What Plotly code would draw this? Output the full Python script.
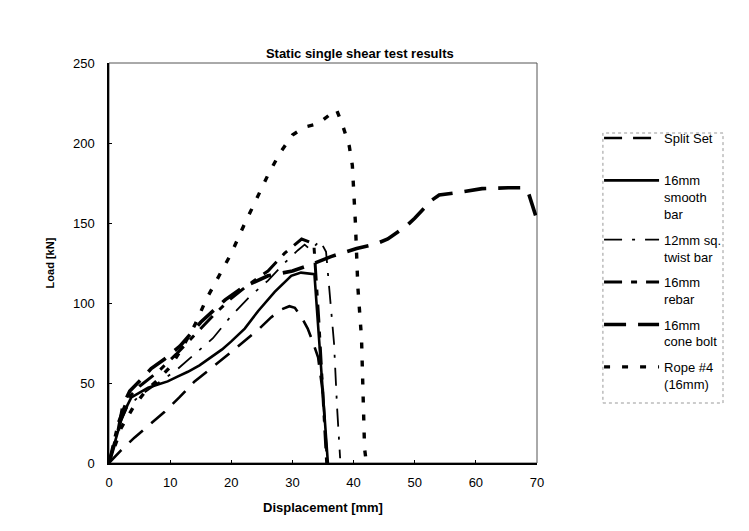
import plotly.graph_objects as go

# ---- data ----
split_set_x = [0, 2, 4.2, 6.4, 9.1, 11.5, 14, 16, 18.3, 20.5, 22.7, 24.6, 26.5, 28.2, 29.5, 30.4, 31.5, 32.5, 33.4, 34.2, 35, 35.7]
split_set_y = [0, 8, 16, 23, 32, 41, 51, 57, 64, 71, 78, 84, 91, 96, 98, 97, 91, 84, 75, 66, 43, 0]

smooth_bar_x = [0, 1, 2, 3, 3.65, 5, 6.4, 8, 9.6, 11.2, 12.9, 14.8, 16.7, 18.5, 20, 22.2, 24.4, 27.1, 29.8, 31.4, 33.6, 35.8]
smooth_bar_y = [0, 14, 27, 36, 41, 44, 47, 49, 51, 54, 57, 61, 66, 71, 76, 84, 95, 107, 117, 119, 118, 0]

twist_bar_x = [0, 1.5, 3, 5, 8, 11, 14, 17, 20, 23, 26, 28.7, 30.9, 32, 33, 34.5, 35.5, 36.3, 36.8, 37.3, 37.8]
twist_bar_y = [0, 22, 35, 42, 50, 58, 68, 78, 92, 104, 114, 125, 133, 136.5, 133, 139, 132, 97, 75, 35, 3]

rebar_x = [0, 1.5, 3, 5, 8, 11, 14, 17, 20, 23, 26, 28.7, 31.5, 33.5, 34.3, 35, 35.6]
rebar_y = [0, 25, 40, 48, 57, 68, 80, 92, 103, 112, 120, 131, 140, 137, 90, 45, 0]

cone_bolt_x = [0, 1.5, 2.3, 3.4, 5.2, 6.9, 9.1, 11.6, 15, 19, 22, 26, 30, 33, 36.3, 40.5, 43.7, 45.6, 48.6, 50, 52.7, 54, 57, 61, 65.3, 67.5, 68.5, 70]
cone_bolt_y = [0, 20, 36, 45, 52, 59, 65, 73, 88, 102, 110, 117, 120, 124, 129, 134, 137, 140, 148, 153, 164, 167.5, 169, 171.5, 172, 172, 170, 152]

rope_x = [0, 2, 4, 6, 8, 10, 12, 14, 16, 18, 20, 22, 24, 26, 28, 30, 32, 34.2, 37.2, 38.3, 39.3, 39.8, 40.3, 40.7, 41.3, 41.8, 42]
rope_y = [0, 22, 35, 45, 52, 60, 72, 86, 103, 117, 131, 148, 164, 180, 194, 205, 210, 212, 221, 210, 198, 186, 150, 110, 78, 9, 3]

series_names = ["Split Set<br>&nbsp;", "16mm<br>smooth<br>bar", "12mm sq.<br>twist bar",
                "16mm<br>rebar", "16mm<br>cone bolt", "Rope #4<br>(16mm)"]

x_ticks = [0, 10, 20, 30, 40, 50, 60, 70]
y_ticks = [0, 50, 100, 150, 200, 250]

FONT = "Liberation Sans, Arial, sans-serif"

styles = [
    dict(width=2.6, dash="18px,11px"),
    dict(width=2.6, dash="solid"),
    dict(width=1.8, dash="18px,10px,3px,10px"),
    dict(width=3.0, dash="18px,9px,6px,9px"),
    dict(width=3.6, dash="22px,12px"),
    dict(width=3.4, dash="6px,12px"),
]
data = [(split_set_x, split_set_y), (smooth_bar_x, smooth_bar_y), (twist_bar_x, twist_bar_y),
        (rebar_x, rebar_y), (cone_bolt_x, cone_bolt_y), (rope_x, rope_y)]

fig = go.Figure()
for i, ((xs, ys), name, st) in enumerate(zip(data, series_names, styles)):
    fig.add_trace(go.Scatter(
        x=xs, y=ys, mode="lines", name=name, legendgroup=f"g{i}",
        line=dict(color="black", width=st["width"], dash=st["dash"]),
    ))

fig.update_layout(
    width=749, height=531,
    margin=dict(l=101, r=220, t=55, b=76, autoexpand=False),
    paper_bgcolor="white", plot_bgcolor="white",
    font=dict(family=FONT, color="black", size=13),
    title=dict(text="<b>Static single shear test results</b>", font=dict(size=13, family=FONT),
               x=0.586, xref="paper", xanchor="center", y=1 - 45 / 531, yref="container", yanchor="middle"),
    showlegend=True,
    legend=dict(x=1.145, xanchor="left", y=0.85, yanchor="top", font=dict(size=13, family=FONT),
                borderwidth=0, valign="top", tracegroupgap=5.6, itemwidth=55,
                traceorder="grouped", bgcolor="rgba(0,0,0,0)"),
    shapes=[
        dict(type="rect", xref="paper", yref="paper", x0=0, x1=1, y0=0, y1=1,
             line=dict(color="#555555", width=1), layer="below"),
        dict(type="rect", xref="paper", yref="paper", x0=1.154, x1=1.4346, y0=0.15, y1=0.825,
             line=dict(color="#999999", width=1, dash="dot"), layer="below"),
    ],
)
fig.update_xaxes(range=[0, 70], tickvals=x_ticks, showline=True, linecolor="black", linewidth=1.5,
                 ticks="inside", ticklen=3, tickcolor="black", showgrid=False, zeroline=False,
                 tickfont=dict(size=13), ticklabelstandoff=7, automargin=False,
                 title=dict(text="<b>Displacement [mm]</b>", font=dict(size=13), standoff=14))
fig.update_yaxes(range=[0, 250], tickvals=y_ticks, showline=True, linecolor="black", linewidth=1.5,
                 ticks="inside", ticklen=3, tickcolor="black", showgrid=False, zeroline=False,
                 tickfont=dict(size=13), ticklabelstandoff=10, automargin=False,
                 title=dict(text="<b>Load [kN]</b>", font=dict(size=11), standoff=16))

fig.write_html("out.html")
